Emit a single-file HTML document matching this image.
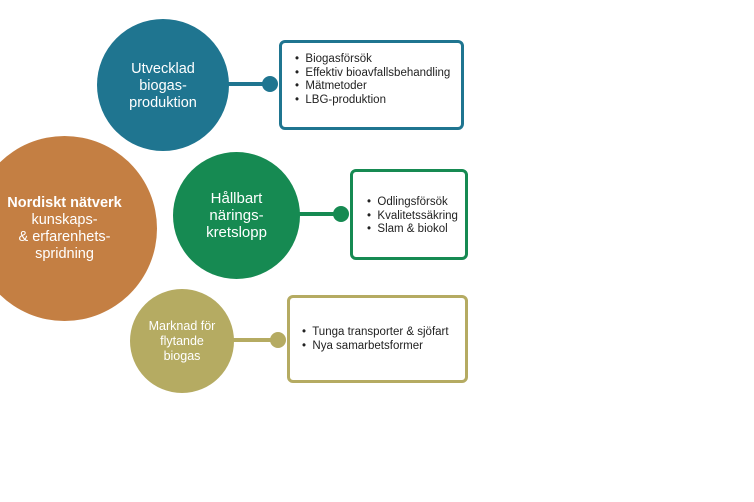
<!DOCTYPE html>
<html><head><meta charset="utf-8"><style>
body{margin:0;width:754px;height:502px;background:#fff;overflow:hidden;position:relative;font-family:"Liberation Sans",sans-serif}
.c{position:absolute;border-radius:50%;display:flex;align-items:center;justify-content:center;text-align:center;color:#fff;line-height:1.2}
.b{position:absolute;background:#fff;border:3px solid;border-radius:6px;box-sizing:border-box;font-size:11px;color:#222;line-height:13.5px}
.l{position:absolute;height:4px}
.d{position:absolute;width:16px;height:16px;border-radius:50%}
</style></head><body>
<div class="c" style="left:-28px;top:136px;width:185px;height:185px;background:#c47f43;font-size:14.5px;line-height:17px"><div><b>Nordiskt nätverk</b><br>kunskaps-<br>&amp; erfarenhets-<br>spridning</div></div>
<div class="l" style="left:200px;top:82px;width:72px;background:#1f7590"></div>
<div class="d" style="left:262px;top:76px;background:#1f7590"></div>
<div class="c" style="left:97px;top:19px;width:132px;height:132px;background:#1f7590;font-size:14.5px;line-height:17px;padding-top:2px;box-sizing:border-box">Utvecklad<br>biogas-<br>produktion</div>
<div class="b" style="left:279px;top:40px;width:185px;height:90px;border-color:#1f7590;padding:10px 0 0 13px;font-size:11.5px">•&nbsp; Biogasförsök<br>•&nbsp; Effektiv bioavfallsbehandling<br>•&nbsp; Mätmetoder<br>•&nbsp; LBG-produktion</div>
<div class="l" style="left:280px;top:212px;width:64px;background:#168a52"></div>
<div class="d" style="left:333px;top:206px;background:#168a52"></div>
<div class="c" style="left:173px;top:152px;width:127px;height:127px;background:#168a52;font-size:15px;line-height:17px">Hållbart<br>närings-<br>kretslopp</div>
<div class="b" style="left:350px;top:169px;width:118px;height:91px;border-color:#168a52;padding:24px 0 0 14px;font-size:11.5px">•&nbsp; Odlingsförsök<br>•&nbsp; Kvalitetssäkring<br>•&nbsp; Slam &amp; biokol</div>
<div class="l" style="left:220px;top:338px;width:62px;background:#b5ab62"></div>
<div class="d" style="left:270px;top:332px;background:#b5ab62"></div>
<div class="c" style="left:130px;top:289px;width:104px;height:104px;background:#b5ab62;font-size:12.5px;line-height:15px">Marknad för<br>flytande<br>biogas</div>
<div class="b" style="left:287px;top:295px;width:181px;height:88px;border-color:#b5ab62;padding:28px 0 0 12px;font-size:11.5px">•&nbsp; Tunga transporter &amp; sjöfart<br>•&nbsp; Nya samarbetsformer</div>
</body></html>
